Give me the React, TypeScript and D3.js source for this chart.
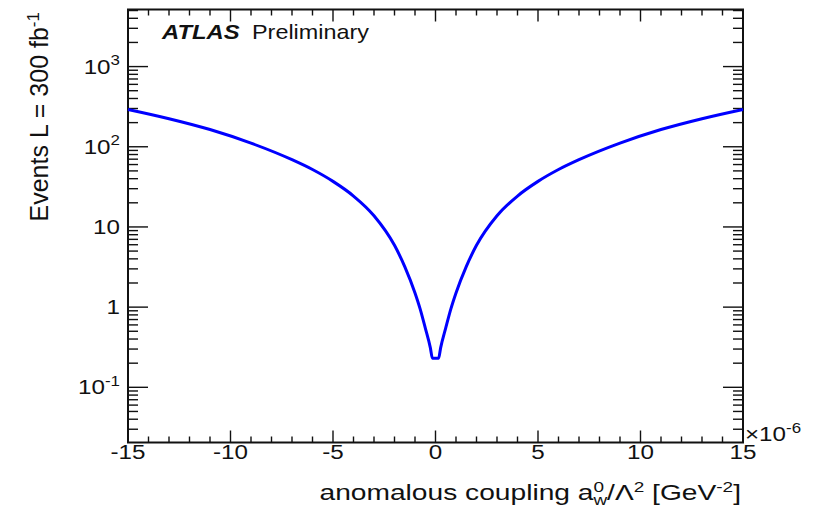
import React from 'react';
import * as d3 from 'd3';

// curve (coupling in units of 1e-6 GeV^-2)
const couplingX = [-15, -13, -11, -9, -7, -6, -5, -4, -3, -2, -1.5, -1, -0.75, -0.5, -0.25, -0.15,
  0.15, 0.25, 0.5, 0.75, 1, 1.5, 2, 3, 4, 5, 6, 7, 9, 11, 13, 15];
const events = [292, 224, 164, 111, 69, 52, 37, 24.3, 13.8, 5.9, 3.2, 1.5, 0.95, 0.55, 0.31, 0.23,
  0.23, 0.31, 0.55, 0.95, 1.5, 3.2, 5.9, 13.8, 24.3, 37, 52, 69, 111, 164, 224, 292];

const xTickValues = [-15, -10, -5, 0, 5, 10, 15];
const xTickLabels = ['-15', '-10', '-5', '0', '5', '10', '15'];
const yTickValues = [0.1, 1, 10, 100, 1000];
const yTickBase = ['10', '1', '10', '10', '10'];
const yTickExp = ['-1', '', '', '2', '3'];

const W = 821;
const H = 521;
const left = 128, right = 743, top = 9.5, bottom = 442.5;
const font = '"Liberation Sans", Arial, Helvetica, sans-serif';
const sx = 1.21;
const fs = 20;

export default function App() {
  const x = d3.scaleLinear().domain([-15, 15]).range([left, right]);
  const y = d3.scaleLog().domain([0.0205, 5150]).range([bottom, top]);

  const line = d3.line<number>()
    .x((d, i) => x(couplingX[i]))
    .y((d) => y(d))
    .curve(d3.curveMonotoneX);

  const xMinor = d3.range(-15, 16, 1);
  const yMinor: number[] = [];
  for (let e = -2; e <= 3; e++) {
    for (let k = 1; k <= 9; k++) {
      const v = k * Math.pow(10, e);
      if (v >= 0.0205 && v <= 5150) yMinor.push(v);
    }
  }

  return (
    <svg width={W} height={H} style={{ position: 'absolute', left: 0, top: 0, background: '#fff' }}
      fontFamily={font}>
      {/* ticks */}
      <g stroke="#111" strokeWidth={1.4}>
        {xMinor.map((v) => {
          const len = v % 5 === 0 ? 12 : 6;
          return (
            <g key={'x' + v}>
              <line x1={x(v)} x2={x(v)} y1={bottom} y2={bottom - len} />
              <line x1={x(v)} x2={x(v)} y1={top} y2={top + len} />
            </g>
          );
        })}
        {yMinor.map((v) => {
          const major = Math.abs(Math.log10(v) - Math.round(Math.log10(v))) < 1e-9;
          const len = major ? 20 : 10;
          return (
            <g key={'y' + v}>
              <line x1={left} x2={left + len} y1={y(v)} y2={y(v)} />
              <line x1={right} x2={right - len} y1={y(v)} y2={y(v)} />
            </g>
          );
        })}
      </g>
      <rect x={left} y={top} width={right - left} height={bottom - top} fill="none" stroke="#111" strokeWidth={2} />

      {/* curve */}
      <path d={line(events) || ''} fill="none" stroke="#0000ff" strokeWidth={3} strokeLinejoin="round" />

      {/* x tick labels */}
      {xTickValues.map((v, i) => (
        <text key={'xl' + v} transform={`translate(${x(v)},459) scale(${sx},1)`} textAnchor="middle"
          fontSize={fs} fill="#111">{xTickLabels[i]}</text>
      ))}
      {/* y tick labels */}
      {yTickValues.map((v, i) => (
        <text key={'yl' + v} transform={`translate(120,${y(v) + 7}) scale(${sx},1)`} textAnchor="end"
          fontSize={fs} fill="#111">
          {yTickBase[i]}
          {yTickExp[i] && <tspan dy={-8.5} fontSize={14}>{yTickExp[i]}</tspan>}
        </text>
      ))}
      <text transform={`translate(745,441) scale(${sx},1)`} fontSize={fs} fill="#111">
        ×10<tspan dy={-8.5} fontSize={14}>-6</tspan>
      </text>

      {/* x title */}
      <text transform={`translate(741,500) scale(1.31,1)`} textAnchor="end" fontSize={21.5} fill="#111">
        anomalous coupling a<tspan dy={-8} fontSize={14.5}>0</tspan>
        <tspan dx={-8.1} dy={12.5} fontSize={14.5}>w</tspan>
        <tspan dy={-4.5}>/Λ</tspan>
        <tspan dy={-8} fontSize={14.5}>2</tspan>
        <tspan dy={8}> [GeV</tspan>
        <tspan dy={-8} fontSize={14.5}>-2</tspan>
        <tspan dy={8}>]</tspan>
      </text>

      {/* y title */}
      <text transform="translate(48,12) rotate(-90)" textAnchor="end" fontSize={25} fill="#111">
        Events L = 300 fb<tspan dy={-9} fontSize={17}>-1</tspan>
      </text>

      {/* ATLAS label */}
      <text transform={`translate(162,38.5) scale(1.19,1)`} fontSize={fs} fontWeight="bold" fontStyle="italic" fill="#111">ATLAS</text>
      <text transform={`translate(252,38.5) scale(1.17,1)`} fontSize={fs} fill="#111">Preliminary</text>
    </svg>
  );
}
